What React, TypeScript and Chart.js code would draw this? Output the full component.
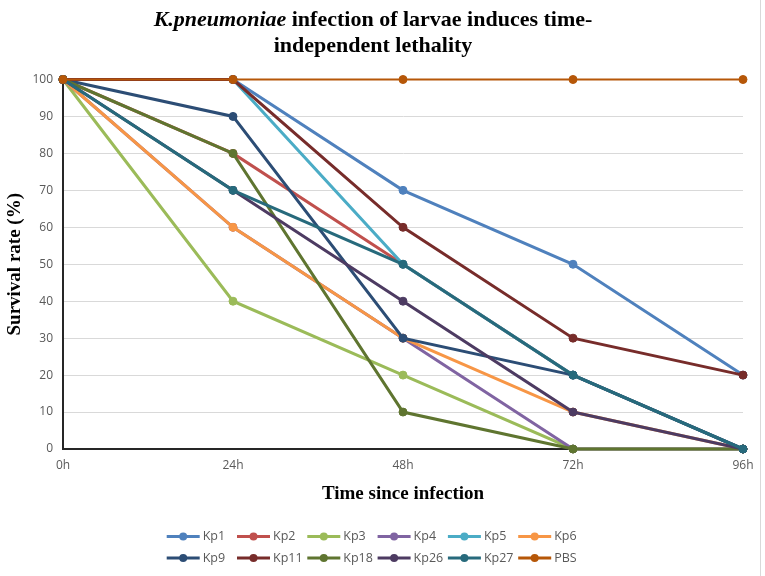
import { useEffect, useRef } from "react"
import { Chart, registerables } from "chart.js"

Chart.register(...registerables)

const timePoints = ["0h", "24h", "48h", "72h", "96h"]

const kp1 = [100, 100, 70, 50, 20]
const kp2 = [100, 80, 50, 20, 0]
const kp3 = [100, 40, 20, 0, 0]
const kp4 = [100, 60, 30, 0, 0]
const kp5 = [100, 100, 50, 20, 0]
const kp6 = [100, 60, 30, 10, 0]
const kp9 = [100, 90, 30, 20, 0]
const kp11 = [100, 100, 60, 30, 20]
const kp18 = [100, 80, 10, 0, 0]
const kp26 = [100, 70, 40, 10, 0]
const kp27 = [100, 70, 50, 20, 0]
const pbs = [100, 100, 100, 100, 100]

const seriesNames = ["Kp1", "Kp2", "Kp3", "Kp4", "Kp5", "Kp6", "Kp9", "Kp11", "Kp18", "Kp26", "Kp27", "PBS"]
const seriesValues = [kp1, kp2, kp3, kp4, kp5, kp6, kp9, kp11, kp18, kp26, kp27, pbs]
const seriesColors = [
  "#4F81BD", "#C0504D", "#9BBB59", "#8064A2", "#4BACC6", "#F79646",
  "#2C4D75", "#772C2A", "#5F7530", "#4D3B62", "#276A7C", "#B65708",
]

const yMin = 0
const yMax = 100
const yStep = 10

const titleItalic = "K.pneumoniae"
const titleRest = " infection of larvae induces time-"
const titleLine2 = "independent lethality"

// title and Excel-style legend (line + marker) drawn on the canvas
const decorPlugin = {
  id: "decor",
  afterDraw(chart: Chart) {
    const ctx = chart.ctx
    ctx.save()

    // frame edge on the right
    ctx.strokeStyle = "#d9d9d9"
    ctx.lineWidth = 1
    ctx.beginPath()
    ctx.moveTo(760.5, 0)
    ctx.lineTo(760.5, 576)
    ctx.stroke()

    const cx = 373
    ctx.fillStyle = "#000"
    ctx.textBaseline = "alphabetic"
    ctx.textAlign = "left"
    const fontItalic = "italic bold 22px 'Liberation Serif'"
    const fontBold = "bold 22px 'Liberation Serif'"
    ctx.font = fontItalic
    const w1 = ctx.measureText(titleItalic).width
    ctx.font = fontBold
    const w2 = ctx.measureText(titleRest).width
    let x = cx - (w1 + w2) / 2
    ctx.font = fontItalic
    ctx.fillText(titleItalic, x, 26)
    x += w1
    ctx.font = fontBold
    ctx.fillText(titleRest, x, 26)
    ctx.textAlign = "center"
    ctx.fillText(titleLine2, cx, 52)

    // legend
    ctx.font = "12.5px 'Open Sans'"
    ctx.textAlign = "left"
    ctx.textBaseline = "middle"
    chart.data.datasets.forEach((ds, i) => {
      const col = i % 6
      const row = Math.floor(i / 6)
      const x0 = 166.7 + col * 70.3
      const y = 536.5 + row * 21.5
      const color = ds.borderColor as string
      ctx.strokeStyle = color
      ctx.lineWidth = 3
      ctx.beginPath()
      ctx.moveTo(x0, y)
      ctx.lineTo(x0 + 33, y)
      ctx.stroke()
      ctx.fillStyle = color
      ctx.beginPath()
      ctx.arc(x0 + 16.5, y, 4, 0, Math.PI * 2)
      ctx.fill()
      ctx.fillStyle = "#595959"
      ctx.fillText(ds.label as string, x0 + 36, y)
    })

    ctx.restore()
  },
}

export default function App() {
  const chartRef = useRef<HTMLCanvasElement>(null)
  const chartInstance = useRef<Chart | null>(null)

  useEffect(() => {
    if (!chartRef.current) return

    if (chartInstance.current) {
      chartInstance.current.destroy()
    }

    const ctx = chartRef.current.getContext("2d")
    if (!ctx) return

    const n = seriesNames.length

    chartInstance.current = new Chart(ctx, {
      type: "line",
      data: {
        labels: timePoints,
        datasets: seriesNames.map((name, i) => ({
          label: name,
          data: seriesValues[i],
          borderColor: seriesColors[i],
          backgroundColor: seriesColors[i],
          pointBackgroundColor: seriesColors[i],
          pointBorderColor: seriesColors[i],
          borderWidth: name === "PBS" ? 2 : 3,
          pointRadius: 4,
          pointBorderWidth: 1,
          tension: 0,
          fill: false,
          clip: false,
          // later series drawn on top, as in the original
          order: n - i,
        })),
      },
      options: {
        responsive: false,
        animation: false,
        layout: {
          padding: { left: 0, right: 22, top: 79.5, bottom: 71 },
        },
        plugins: {
          legend: { display: false },
          title: { display: false },
          tooltip: { enabled: false },
        },
        scales: {
          x: {
            type: "category",
            offset: false,
            grid: { display: false, drawTicks: false },
            border: { display: true, color: "#262626", width: 2 },
            ticks: {
              color: "#595959",
              font: { family: "'Open Sans'", size: 12 },
              padding: 9,
              maxRotation: 0,
            },
            title: {
              display: true,
              text: "Time since infection",
              color: "#000",
              font: { family: "'Liberation Serif'", size: 19, weight: "bold" },
              padding: { top: 0, bottom: 0 },
            },
            afterFit: (scale) => {
              scale.height = 56
              scale.paddingLeft = 0
              scale.paddingRight = 0
            },
          },
          y: {
            min: yMin,
            max: yMax,
            grid: { color: "#d9d9d9", lineWidth: 1, drawTicks: false },
            border: { display: true, color: "#262626", width: 2 },
            ticks: {
              stepSize: yStep,
              color: "#595959",
              font: { family: "'Open Sans'", size: 12 },
              padding: 10,
            },
            title: {
              display: true,
              text: "Survival rate (%)",
              color: "#000",
              font: { family: "'Liberation Serif'", size: 19, weight: "bold" },
              padding: { top: 4, bottom: 0 },
            },
            afterFit: (scale) => {
              scale.width = 63
              scale.paddingTop = 0
              scale.paddingBottom = 0
            },
          },
        },
      },
      plugins: [decorPlugin],
    })

    return () => {
      if (chartInstance.current) {
        chartInstance.current.destroy()
        chartInstance.current = null
      }
    }
  }, [])

  return (
    <div style={{ position: "absolute", left: 0, top: 0, width: 765, height: 576, background: "#fff" }}>
      <canvas ref={chartRef} width={765} height={576} style={{ display: "block" }} />
    </div>
  )
}
